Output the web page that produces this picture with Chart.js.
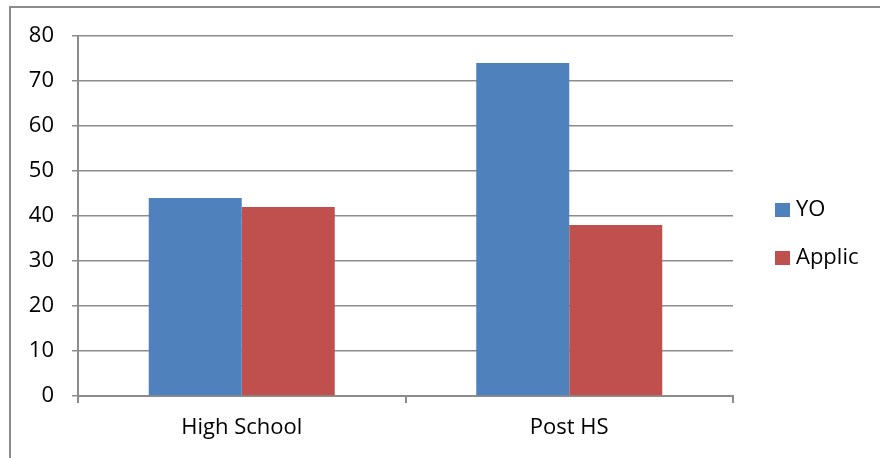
<!DOCTYPE html>
<html>
<head>
<meta charset="utf-8">
<script src="https://cdn.jsdelivr.net/npm/chart.js@4"></script>
<style>
  html, body { margin: 0; padding: 0; background: #fff; }
  #wrap { position: relative; width: 880px; height: 458px; overflow: hidden; }
  #frame { position: absolute; left: 9px; top: 6px; width: 900px; height: 480px; border: 2px solid #8c8c8c; box-sizing: border-box; }
  canvas { position: absolute; left: 0; top: 0; }
</style>
</head>
<body>
<div id="wrap">
  <div id="frame"></div>
  <canvas id="chart" width="880" height="458"></canvas>
</div>
<script>
// Datos del gráfico
const categories = ['High School', 'Post HS']
const seriesNames = ['YO', 'Applic']
const yoValues = [44, 74]
const applicValues = [42, 38]
const yTicks = [0, 10, 20, 30, 40, 50, 60, 70, 80]

const colors = ['#4F81BD', '#C0504D']
const font = { family: 'Open Sans', size: 22 }

// Leyenda dibujada a mano a la derecha
const sideLegend = {
  id: 'sideLegend',
  afterDraw(chart) {
    const ctx = chart.ctx
    ctx.save()
    ctx.font = `${font.size}px ${font.family}`
    ctx.textBaseline = 'middle'
    ctx.fillStyle = '#000'
    chart.data.datasets.forEach((ds, i) => {
      const y = 203 + i * 48
      ctx.fillStyle = ds.backgroundColor
      ctx.fillRect(775, y, 15, 14)
      ctx.fillStyle = '#000'
      ctx.fillText(ds.label, 796, y + 7)
    })
    ctx.restore()
  }
}

new Chart(document.getElementById('chart'), {
  type: 'bar',
  data: {
    labels: categories,
    datasets: [
      { label: seriesNames[0], data: yoValues, backgroundColor: colors[0] },
      { label: seriesNames[1], data: applicValues, backgroundColor: colors[1] }
    ]
  },
  options: {
    responsive: false,
    animation: false,
    layout: { padding: { top: 36, right: 147, left: 0, bottom: 0 } },
    datasets: { bar: { categoryPercentage: 0.568, barPercentage: 1 } },
    plugins: { legend: { display: false }, tooltip: { enabled: false } },
    scales: {
      x: {
        grid: { offset: true, drawOnChartArea: false, tickLength: 7, color: '#8c8c8c', lineWidth: 2 },
        border: { color: '#8c8c8c', width: 2 },
        ticks: { color: '#000', font: font, padding: 12 },
        afterFit(scale) { scale.height = 62 }
      },
      y: {
        min: 0,
        max: 80,
        afterBuildTicks(scale) { scale.ticks = yTicks.map(v => ({ value: v })) },
        grid: { color: '#8c8c8c', lineWidth: 1.5, tickLength: 6 },
        border: { color: '#8c8c8c', width: 2 },
        ticks: { color: '#000', font: font, padding: 18 },
        afterFit(scale) { scale.width = 78 }
      }
    }
  },
  plugins: [sideLegend]
})
</script>
</body>
</html>
